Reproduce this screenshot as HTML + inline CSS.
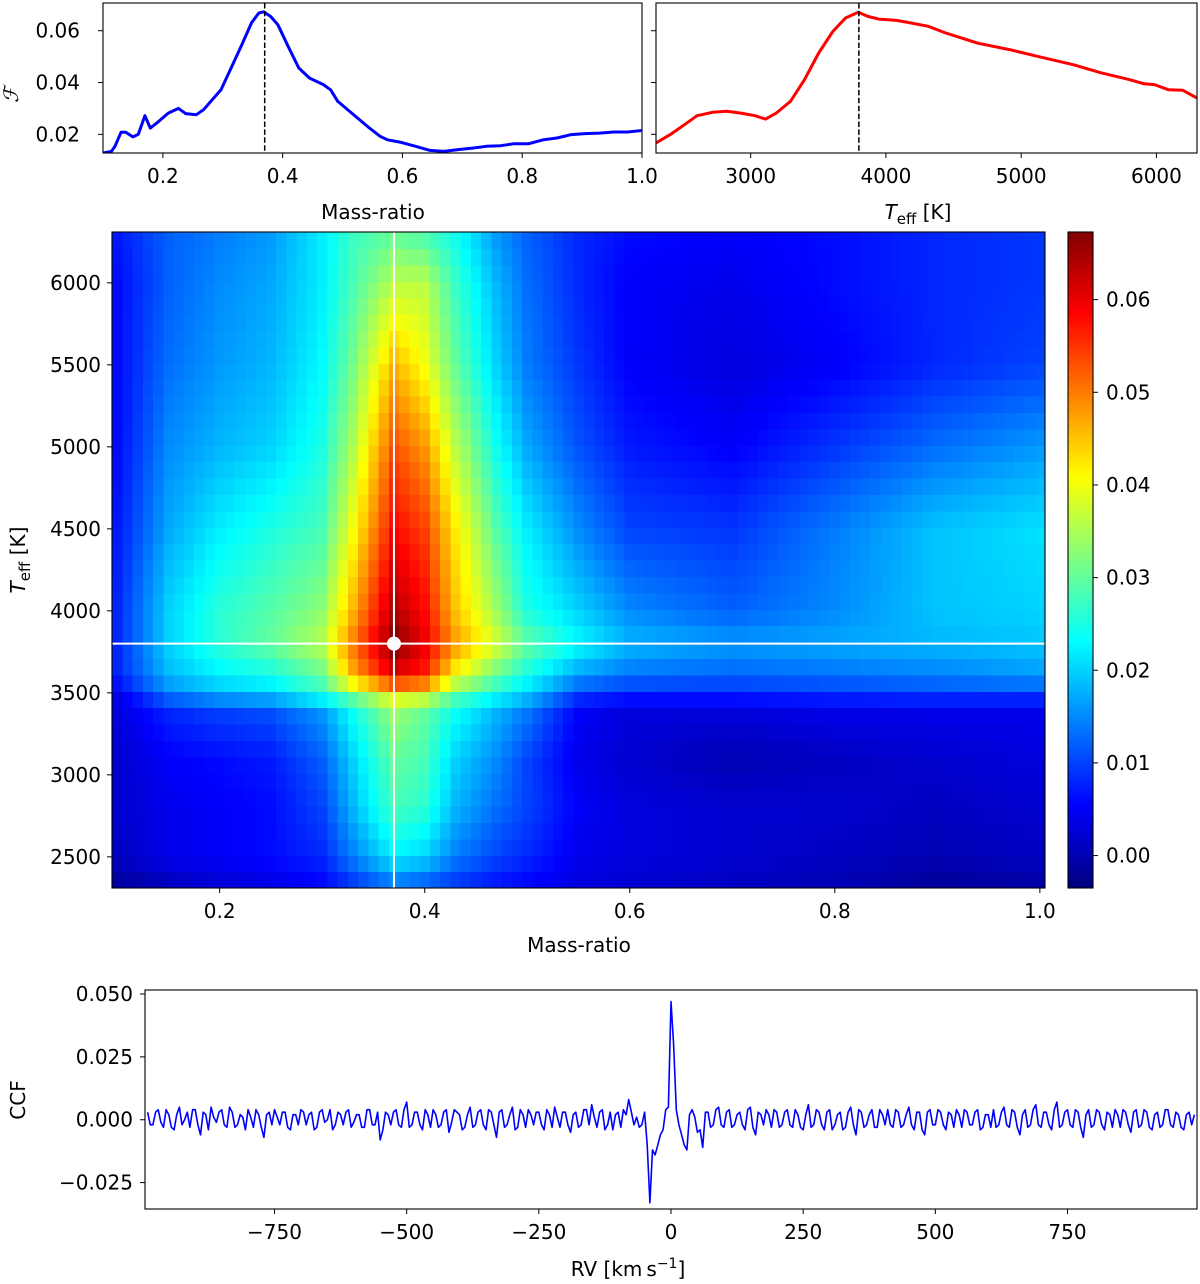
<!DOCTYPE html>
<html><head><meta charset="utf-8"><style>
html,body{margin:0;padding:0;background:#fff}
svg{display:block;font-family:"DejaVu Sans","Liberation Sans",sans-serif}
</style></head><body>
<svg id="fig" width="1200" height="1284" viewBox="0 0 1200 1284" xmlns="http://www.w3.org/2000/svg">
<g id="gTL"></g>
<g id="gTR"></g>
<g id="gHM"></g>
<g id="gCB"></g>
<g id="gCCF"></g>
</svg>
<script>
// ---------- data ----------
const tlQ = [0.100,0.114,0.120,0.130,0.138,0.150,0.159,0.170,0.179,0.191,0.209,0.226,0.238,0.256,0.268,0.280,0.297,0.315,0.333,0.348,0.360,0.368,0.380,0.392,0.409,0.427,0.445,0.468,0.480,0.492,0.522,0.545,0.563,0.575,0.598,0.622,0.646,0.669,0.693,0.717,0.740,0.764,0.787,0.811,0.835,0.858,0.882,0.905,0.929,0.953,0.976,1.000];
const tlF = [0.0128,0.0134,0.0154,0.0208,0.0208,0.0190,0.0200,0.0272,0.0224,0.0246,0.0282,0.0300,0.0280,0.0276,0.0295,0.0327,0.0372,0.0462,0.0552,0.0630,0.0668,0.0673,0.0655,0.0623,0.0540,0.0456,0.0417,0.0392,0.0372,0.0327,0.0269,0.0224,0.0192,0.0179,0.0169,0.0154,0.0138,0.0134,0.0141,0.0147,0.0154,0.0156,0.0164,0.0164,0.0179,0.0186,0.0199,0.0203,0.0205,0.0209,0.0209,0.0215];
const trT = [2300,2405,2509,2603,2718,2823,2927,3032,3110,3189,3294,3398,3503,3607,3701,3795,3869,3947,4078,4182,4313,4444,4679,4914,5124,5385,5594,5803,5908,5986,6091,6196,6300];
const trF = [0.0167,0.0199,0.0237,0.0272,0.0285,0.0289,0.0282,0.0272,0.0259,0.0282,0.0327,0.0411,0.0514,0.0597,0.0649,0.0671,0.0655,0.0645,0.0640,0.0630,0.0617,0.0591,0.0552,0.0527,0.0501,0.0469,0.0437,0.0411,0.0395,0.0392,0.0372,0.0370,0.0340];
const bestQ = 0.37;
const bestT = 3800;
const tlYTicks = [0.02,0.04,0.06];
const tlXTicks = [0.2,0.4,0.6,0.8,1.0];
const trXTicks = [3000,4000,5000,6000];

const hmQ = [0.10,0.15,0.20,0.25,0.30,0.33,0.37,0.40,0.43,0.47,0.50,0.55,0.60,0.70,0.80,0.90,1.00];
const hmT = [2300,2500,2800,3100,3400,3500,3600,3800,4000,4500,5000,5500,6000,6300];
const hmZ = [
 [-0.002,0.000,0.002,0.003,0.005,0.008,0.012,0.010,0.008,0.006,0.005,0.003,0.002,0.001,0.000,-0.002,-0.001],
 [0.001,0.004,0.005,0.006,0.008,0.014,0.022,0.020,0.014,0.010,0.008,0.004,0.003,0.002,0.001,0.000,0.001],
 [0.002,0.004,0.005,0.006,0.010,0.018,0.028,0.026,0.018,0.013,0.010,0.005,0.003,0.002,0.002,0.001,0.002],
 [0.002,0.005,0.006,0.007,0.012,0.020,0.030,0.028,0.020,0.015,0.010,0.004,0.002,0.000,0.001,0.002,0.003],
 [0.003,0.008,0.010,0.011,0.016,0.024,0.034,0.030,0.024,0.018,0.014,0.005,0.003,0.003,0.004,0.004,0.004],
 [0.004,0.014,0.018,0.020,0.026,0.032,0.042,0.040,0.030,0.024,0.020,0.010,0.008,0.008,0.009,0.010,0.010],
 [0.008,0.018,0.022,0.024,0.030,0.046,0.060,0.056,0.040,0.030,0.024,0.016,0.013,0.012,0.013,0.014,0.016],
 [0.008,0.020,0.026,0.030,0.036,0.050,0.067,0.060,0.048,0.038,0.030,0.023,0.018,0.016,0.017,0.018,0.019],
 [0.008,0.020,0.026,0.029,0.033,0.046,0.064,0.058,0.045,0.034,0.025,0.020,0.015,0.012,0.015,0.019,0.020],
 [0.007,0.017,0.022,0.025,0.028,0.040,0.058,0.054,0.042,0.029,0.022,0.015,0.010,0.009,0.014,0.019,0.021],
 [0.006,0.015,0.018,0.020,0.025,0.035,0.053,0.048,0.036,0.024,0.017,0.011,0.007,0.005,0.009,0.013,0.016],
 [0.006,0.013,0.016,0.018,0.023,0.031,0.046,0.040,0.030,0.020,0.014,0.009,0.005,0.003,0.005,0.008,0.010],
 [0.006,0.012,0.015,0.017,0.022,0.028,0.036,0.036,0.027,0.018,0.013,0.008,0.005,0.004,0.006,0.008,0.009],
 [0.007,0.012,0.014,0.016,0.022,0.027,0.030,0.028,0.024,0.016,0.012,0.008,0.006,0.005,0.006,0.008,0.009]
];
const cbTicks = [0.00,0.01,0.02,0.03,0.04,0.05,0.06];
const hmXTicks = [0.2,0.4,0.6,0.8,1.0];
const hmYTicks = [2500,3000,3500,4000,4500,5000,5500,6000];

const ccfStart = -990;
const ccfStep = 10;
// values at rv = -990, -980, ... 990
const ccfVals = [
 0.003,-0.002,0.004,-0.003,0.002,-0.004,0.005,0.000,-0.003,0.004,
 -0.006,0.002,0.005,-0.001,0.004,-0.003,0.003,-0.002,0.001,0.004,
 -0.003,0.002,-0.007,0.003,0.004,-0.002,0.003,-0.004,0.002,0.004,
 -0.002,0.003,-0.003,0.004,0.000,-0.004,0.003,-0.002,0.004,-0.001,
 0.002,-0.003,0.004,-0.002,-0.008,0.003,-0.002,0.004,-0.003,0.007,
 -0.002,0.003,-0.004,0.002,0.004,-0.003,0.003,-0.005,0.004,0.002,
 -0.003,0.005,-0.002,0.004,-0.004,0.003,-0.007,0.004,-0.002,0.005,
 -0.003,0.002,0.004,-0.002,0.003,-0.004,0.002,0.005,-0.003,0.003,
 -0.005,0.003,-0.002,0.004,0.006,-0.003,0.004,-0.002,-0.004,0.003,
 0.004,0.008,-0.002,-0.003,0.003,-0.033,-0.014,-0.006,0.004,0.047,
 0.004,-0.006,-0.012,0.004,-0.005,-0.011,0.003,-0.002,0.005,-0.003,
 0.004,-0.002,0.003,-0.004,0.005,-0.006,0.002,0.004,-0.003,0.003,
 -0.002,0.004,-0.003,0.002,-0.004,0.006,-0.002,0.003,-0.004,0.004,
 -0.002,0.003,-0.003,0.005,-0.006,0.003,-0.002,0.004,-0.003,0.002,
 0.004,-0.003,0.003,-0.002,0.005,-0.004,0.003,-0.006,0.004,-0.002,
 0.003,-0.004,0.002,0.004,-0.003,0.003,-0.002,0.004,-0.003,0.002,
 0.004,-0.002,0.005,-0.003,0.003,-0.006,0.004,-0.002,0.006,-0.003,
 0.003,-0.004,0.007,-0.002,0.004,-0.003,0.003,-0.007,0.004,-0.002,
 0.003,-0.004,0.002,0.004,-0.003,0.003,-0.005,0.004,-0.002,0.003,
 -0.004,0.003,-0.002,0.004,-0.003,0.002,-0.004,0.003,0.002
];
// values at rv = -985, -975, ... 985
const ccfValsHalf = [
 -0.002,0.003,-0.001,0.004,-0.003,0.002,-0.002,0.003,0.004,-0.002,
 0.003,-0.004,0.001,0.003,-0.002,0.005,-0.003,0.002,-0.004,0.001,
 0.004,-0.003,0.002,-0.002,0.001,0.003,-0.003,0.002,-0.002,0.003,
 0.002,-0.004,0.003,-0.001,0.004,-0.002,0.002,0.003,-0.003,0.002,
 -0.003,0.004,-0.002,0.003,-0.004,0.002,0.003,-0.002,0.004,-0.003,
 0.003,-0.002,0.004,-0.003,0.002,-0.002,0.004,-0.001,0.003,-0.004,
 0.002,-0.003,0.003,-0.002,0.004,-0.002,0.003,-0.003,0.002,-0.004,
 0.004,-0.003,0.002,0.003,-0.002,0.004,-0.003,0.001,0.003,-0.002,
 0.002,-0.003,0.004,-0.002,0.001,0.003,-0.004,0.003,0.002,-0.003,
 0.002,0.003,0.001,-0.002,-0.010,-0.012,-0.010,-0.004,0.005,0.030,
 -0.002,-0.010,0.002,0.001,-0.004,0.003,-0.003,0.004,-0.002,0.003,
 -0.003,0.002,-0.002,0.004,-0.003,0.003,-0.002,0.002,0.004,-0.003,
 0.003,-0.002,0.004,-0.003,0.002,-0.003,0.004,-0.002,0.003,-0.004,
 0.002,-0.004,0.003,-0.002,0.004,-0.003,0.002,-0.003,0.004,-0.002,
 -0.002,0.004,-0.003,0.002,-0.002,0.003,-0.004,0.003,-0.002,0.004,
 -0.002,0.003,-0.003,0.002,0.004,-0.002,0.003,-0.004,0.002,-0.003,
 -0.003,0.003,-0.002,0.004,-0.003,0.002,-0.003,0.004,-0.002,0.003,
 -0.002,0.004,-0.003,0.003,-0.002,0.004,-0.003,0.002,-0.003,0.004,
 -0.002,0.003,-0.003,0.002,0.004,-0.002,0.003,-0.003,0.004,-0.003,
 0.002,-0.003,0.004,-0.002,0.003,-0.003,0.002,-0.002
];
const ccfXTicks = [-750,-500,-250,0,250,500,750];
const ccfYTicks = [-0.025,0.000,0.025,0.050];
const ccfYLabels = ["\u22120.025","0.000","0.025","0.050"];

// ---------- helpers ----------
const NS = "http://www.w3.org/2000/svg";
const FS = 20;
function mk(parent, tag, attrs, text){
  const e = document.createElementNS(NS, tag);
  for (const k in attrs) e.setAttribute(k, attrs[k]);
  if (text !== undefined) e.textContent = text;
  parent.appendChild(e);
  return e;
}
function lin(d0,d1,r0,r1){ return v => r0 + (v-d0)/(d1-d0)*(r1-r0); }
function fmtMinus(s){ return s.replace('-', '\u2212'); }
function jet(t){
  t = Math.max(0, Math.min(1, t));
  const c = x => Math.round(255*Math.max(0, Math.min(1, x)));
  return `rgb(${c(1.5-Math.abs(4*t-3))},${c(1.5-Math.abs(4*t-2))},${c(1.5-Math.abs(4*t-1))})`;
}
function frame(g, x0, y0, x1, y1){
  const r = mk(g,'rect',{x:x0,y:y0,width:x1-x0,height:y1-y0,fill:'none',stroke:'#000','stroke-width':1.1});
  
  
}
function xTick(g, x, y, label){
  const l = mk(g,'line',{x1:x,x2:x,y1:y,y2:y+5,stroke:'#000','stroke-width':1});
  
  
  if (label !== null){
    const t = mk(g,'text',{x:x,y:y+30,'font-size':FS,'text-anchor':'middle'},label);
    
    
  }
}
function yTick(g, x, y, label, anchorX){
  const l = mk(g,'line',{x1:x-5,x2:x,y1:y,y2:y,stroke:'#000','stroke-width':1});
  
  
  if (label !== null){
    const t = mk(g,'text',{x:anchorX,y:y+7,'font-size':FS,'text-anchor':'end'},label);
    
    
  }
}
function poly(g, xs, ys, sx, sy, color, w, name){
  const p = xs.map((v,i)=>`${sx(v).toFixed(1)},${sy(ys[i]).toFixed(1)}`).join(' ');
  const e = mk(g,'polyline',{points:p,fill:'none',stroke:color,'stroke-width':w,'stroke-linejoin':'round'});
  
  
  return e;
}

// ---------- top-left ----------
(function(){
  const g = document.getElementById('gTL');
  const X0=103,X1=642,Y0=3,Y1=153;
  const sx = lin(0.1,1.0,X0,X1), sy = lin(0.0128,0.0707,Y1,Y0);
  const cp = mk(g,'clipPath',{id:'clipTL'});
  mk(cp,'rect',{x:X0,y:Y0,width:X1-X0,height:Y1-Y0});
  const cg = mk(g,'g',{'clip-path':'url(#clipTL)'});
  poly(cg, tlQ, tlF, sx, sy, '#0000ff', 3, 'mass-ratio-curve');
  const d = mk(g,'line',{x1:sx(bestQ),x2:sx(bestQ),y1:Y0,y2:Y1,stroke:'#000','stroke-width':1.5,'stroke-dasharray':'5.5,2.4'});
  
  
  frame(g,X0,Y0,X1,Y1);
  tlXTicks.forEach(v=>xTick(g,sx(v),Y1,v.toFixed(1)));
  tlYTicks.forEach(v=>yTick(g,X0,sy(v),v.toFixed(2),80));
  const t = mk(g,'text',{x:373,y:219,'font-size':FS,'text-anchor':'middle'},'Mass-ratio');
   
  const f = mk(g,'text',{x:0,y:0,'font-size':20,'font-style':'italic','font-family':'"DejaVu Serif","Liberation Serif",serif','text-anchor':'middle',transform:'translate(18,95) rotate(-90)'},'\u2131');
   
})();

// ---------- top-right ----------
(function(){
  const g = document.getElementById('gTR');
  const X0=656,X1=1197,Y0=3,Y1=153;
  const sx = lin(2300,6300,X0,X1), sy = lin(0.0128,0.0707,Y1,Y0);
  poly(g, trT, trF, sx, sy, '#ff0000', 3, 'teff-curve');
  const d = mk(g,'line',{x1:sx(bestT),x2:sx(bestT),y1:Y0,y2:Y1,stroke:'#000','stroke-width':1.5,'stroke-dasharray':'5.5,2.4'});
  
  
  frame(g,X0,Y0,X1,Y1);
  trXTicks.forEach(v=>xTick(g,sx(v),Y1,String(v)));
  tlYTicks.forEach(v=>yTick(g,X0,sy(v),null,0));
  const t = mk(g,'text',{x:918,y:219,'font-size':FS,'text-anchor':'middle'});
   
  t.innerHTML = '<tspan font-style="italic">T</tspan><tspan font-size="15" dy="5">eff</tspan><tspan dy="-5"> [K]</tspan>';
})();

// ---------- heatmap ----------
const CMIN = -0.0035, CMAX = 0.0673;
function interp(q, T){
  let i = 0; while (i < hmQ.length-2 && q > hmQ[i+1]) i++;
  let j = 0; while (j < hmT.length-2 && T > hmT[j+1]) j++;
  const fx = Math.max(0,Math.min(1,(q-hmQ[i])/(hmQ[i+1]-hmQ[i])));
  const fy = Math.max(0,Math.min(1,(T-hmT[j])/(hmT[j+1]-hmT[j])));
  const a = hmZ[j][i]*(1-fx)+hmZ[j][i+1]*fx;
  const b = hmZ[j+1][i]*(1-fx)+hmZ[j+1][i+1]*fx;
  return a*(1-fy)+b*fy;
}
(function(){
  const g = document.getElementById('gHM');
  const X0=112,X1=1045,Y0=232,Y1=888;
  const sx = lin(0.095,1.005,X0,X1), sy = lin(2310,6310,Y1,Y0);
  const cells = mk(g,'g',{'shape-rendering':'crispEdges'});
  
  
  for (let k=0;k<40;k++){
    const T = 2360 + 100*k;
    const ya = sy(T+50), yb = sy(T-50);
    for (let m=0;m<91;m++){
      const q = 0.10 + 0.01*m;
      const xa = sx(q-0.005), xb = sx(q+0.005);
      const v = interp(q, T);
      const r = mk(cells,'rect',{x:xa.toFixed(2),y:ya.toFixed(2),width:(xb-xa+0.6).toFixed(2),height:(yb-ya+0.6).toFixed(2),fill:jet((v-CMIN)/(CMAX-CMIN))});
      
      
    }
  }
  const vl = mk(g,'line',{x1:sx(bestQ),x2:sx(bestQ),y1:Y0,y2:Y1,stroke:'#fff','stroke-width':2});
   
  const hl = mk(g,'line',{x1:X0,x2:X1,y1:sy(bestT),y2:sy(bestT),stroke:'#fff','stroke-width':2});
   
  const c = mk(g,'circle',{cx:sx(bestQ),cy:sy(bestT),r:7,fill:'#fff'});
   
  frame(g,X0,Y0,X1,Y1);
  hmXTicks.forEach(v=>xTick(g,sx(v),Y1,v.toFixed(1)));
  hmYTicks.forEach(v=>yTick(g,X0,sy(v),String(v),101));
  const t = mk(g,'text',{x:579,y:952,'font-size':FS,'text-anchor':'middle'},'Mass-ratio');
   
  const y = mk(g,'text',{x:0,y:0,'font-size':FS,'text-anchor':'middle',transform:'translate(25,560) rotate(-90)'});
   
  y.innerHTML = '<tspan font-style="italic">T</tspan><tspan font-size="15" dy="5">eff</tspan><tspan dy="-5"> [K]</tspan>';
})();

// ---------- colorbar ----------
(function(){
  const g = document.getElementById('gCB');
  const X0=1068,X1=1093,Y0=232,Y1=888;
  const sy = lin(CMIN,CMAX,Y1,Y0);
  const n = 200;
  for (let i=0;i<n;i++){
    const v0 = CMIN + (CMAX-CMIN)*i/n, v1 = CMIN + (CMAX-CMIN)*(i+1)/n;
    const r = mk(g,'rect',{x:X0,y:sy(v1).toFixed(2),width:X1-X0,height:(sy(v0)-sy(v1)+0.6).toFixed(2),fill:jet((v0-CMIN)/(CMAX-CMIN)),'shape-rendering':'crispEdges'});
    
    
  }
  frame(g,X0,Y0,X1,Y1);
  cbTicks.forEach(v=>{
    const y = sy(v);
    const l = mk(g,'line',{x1:X1,x2:X1+5,y1:y,y2:y,stroke:'#000','stroke-width':1});
     
    const t = mk(g,'text',{x:1106,y:y+7,'font-size':FS},v.toFixed(2));
     
  });
})();

// ---------- CCF ----------
(function(){
  const g = document.getElementById('gCCF');
  const X0=145,X1=1197,Y0=990,Y1=1209;
  const sx = lin(-995,995,X0,X1), sy = lin(-0.0355,0.0516,Y1,Y0);
  const rv = [], vals = [];
  ccfVals.forEach((v,i)=>{
    rv.push(ccfStart+ccfStep*i); vals.push(v);
    if (i < ccfValsHalf.length){ rv.push(ccfStart+ccfStep*i+ccfStep/2); vals.push(ccfValsHalf[i]); }
  });
  poly(g, rv, vals, sx, sy, '#0000ff', 1.6, 'ccf-curve');
  frame(g,X0,Y0,X1,Y1);
  ccfXTicks.forEach(v=>xTick(g,sx(v),Y1,fmtMinus(String(v))));
  ccfYTicks.forEach((v,i)=>yTick(g,X0,sy(v),ccfYLabels[i],133));
  const t = mk(g,'text',{x:628,y:1276,'font-size':FS,'text-anchor':'middle'});
   
  t.innerHTML = 'RV [km\u2009s<tspan font-size="14" dy="-8">\u22121</tspan><tspan dy="8">]</tspan>';
  const y = mk(g,'text',{x:0,y:0,'font-size':FS,'text-anchor':'middle',transform:'translate(25,1100) rotate(-90)'},'CCF');
   
})();
</script>
</body></html>
